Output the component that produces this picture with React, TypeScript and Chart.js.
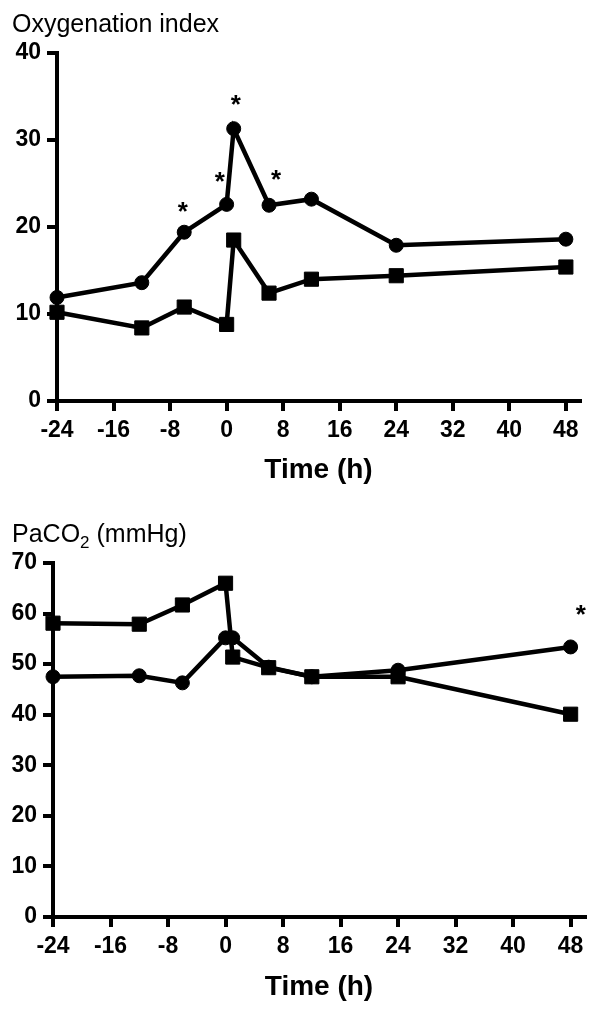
import React, { useEffect, useRef } from "react";
import { Chart, registerables } from "chart.js";

Chart.register(...registerables);

// ---------- data ----------
const TIME_HOURS = [-24, -12, -6, 0, 1, 6, 12, 24, 48];
const X_TICKS = [-24, -16, -8, 0, 8, 16, 24, 32, 40, 48];

const OXY_CIRCLES = [11.9, 13.6, 19.4, 22.6, 31.3, 22.5, 23.2, 17.9, 18.6];
const OXY_SQUARES = [10.2, 8.4, 10.8, 8.8, 18.5, 12.4, 14.0, 14.4, 15.4];
const OXY_Y_TICKS = [0, 10, 20, 30, 40];
const OXY_STAR_X = [-6.2, -0.95, 1.3, 7.0];
const OXY_STAR_Y = [22.5, 26.0, 34.8, 26.2];

const PACO2_CIRCLES = [47.5, 47.7, 46.3, 55.2, 55.2, 49.4, 47.5, 48.8, 53.4];
const PACO2_SQUARES = [58.1, 57.9, 61.7, 66.0, 51.4, 49.3, 47.5, 47.5, 40.1];
const PACO2_Y_TICKS = [0, 10, 20, 30, 40, 50, 60, 70];
const PACO2_STAR_X = [49.4];
const PACO2_STAR_Y = [61.1];

const X_TITLE = "Time (h)";
const OXY_TITLE = [{ text: "Oxygenation index" }];
const PACO2_TITLE = [{ text: "PaCO" }, { text: "2", sub: true }, { text: " (mmHg)" }];

// ---------- styling ----------
const FAMILY = '"Liberation Sans", Arial, Helvetica, sans-serif';

const figTextPlugin = {
  id: "figText",
  afterDraw(chart: any, _args: any, opts: any) {
    const ctx = chart.ctx;
    const { left, right } = chart.chartArea;
    ctx.save();
    ctx.fillStyle = "#000";
    ctx.textBaseline = "alphabetic";
    ctx.textAlign = "left";
    let x = opts.titleX;
    for (const seg of opts.title) {
      ctx.font = seg.sub ? `17px ${FAMILY}` : `25px ${FAMILY}`;
      ctx.fillText(seg.text, x, opts.titleBaseline + (seg.sub ? 6 : 0));
      x += ctx.measureText(seg.text).width;
    }
    ctx.font = `bold 28px ${FAMILY}`;
    ctx.textAlign = "center";
    ctx.fillText(X_TITLE, (left + right) / 2, opts.xTitleBaseline);
    const xs = chart.scales.x;
    const ys = chart.scales.y;
    ctx.font = `bold 26px ${FAMILY}`;
    opts.starX.forEach((v: number, i: number) => {
      ctx.fillText("*", xs.getPixelForValue(v), ys.getPixelForValue(opts.starY[i]) + 15);
    });
    ctx.restore();
  },
};

function buildConfig(p: any) {
  const tickFont = { family: FAMILY, size: 23, weight: "bold" as const };
  const grid = {
    drawOnChartArea: false,
    drawTicks: true,
    tickLength: 10,
    lineWidth: 4,
    color: "#000",
  };
  const border = { display: true, width: 4, color: "#000" };
  const mk = (vals: number[]) => vals.map((y, i) => ({ x: TIME_HOURS[i], y }));
  return {
    type: "line" as const,
    data: {
      datasets: [
        {
          data: mk(p.squares),
          borderColor: "#000",
          backgroundColor: "#000",
          borderWidth: 4.5,
          pointStyle: "rect",
          pointRadius: 10,
          pointBorderWidth: 1,
          tension: 0,
          clip: false,
        },
        {
          data: mk(p.circles),
          borderColor: "#000",
          backgroundColor: "#000",
          borderWidth: 4.5,
          pointStyle: "circle",
          pointRadius: 7,
          pointBorderWidth: 1,
          tension: 0,
          clip: false,
        },
      ],
    },
    options: {
      animation: false,
      responsive: false,
      maintainAspectRatio: false,
      devicePixelRatio: 1,
      layout: { padding: { left: 0, right: p.padRight, top: p.padTop, bottom: 0 } },
      plugins: {
        legend: { display: false },
        tooltip: { enabled: false },
        figText: {
          title: p.title,
          titleX: 12,
          titleBaseline: p.titleBaseline,
          xTitleBaseline: p.xTitleBaseline,
          starX: p.starX,
          starY: p.starY,
        },
      },
      scales: {
        x: {
          type: "linear",
          min: -24,
          max: 50,
          afterBuildTicks: (s: any) => {
            s.ticks = X_TICKS.map((v) => ({ value: v }));
          },
          afterFit: (s: any) => {
            s.height = p.xAxisHeight;
          },
          ticks: {
            font: tickFont,
            color: "#000",
            padding: 6,
            autoSkip: false,
            maxRotation: 0,
            callback: (v: any) => String(v),
          },
          grid,
          border,
        },
        y: {
          type: "linear",
          min: 0,
          max: p.yMax,
          afterBuildTicks: (s: any) => {
            s.ticks = p.yTicks.map((v: number) => ({ value: v }));
          },
          afterFit: (s: any) => {
            s.width = p.yAxisWidth;
          },
          ticks: {
            font: tickFont,
            color: "#000",
            padding: 6,
            callback: (v: any) => String(v),
          },
          grid,
          border,
        },
      },
    },
    plugins: [figTextPlugin],
  };
}

function ChartCanvas({ params, width, height, top }: any) {
  const ref = useRef<HTMLCanvasElement>(null);
  useEffect(() => {
    if (!ref.current) return;
    const chart = new Chart(ref.current, buildConfig(params) as any);
    return () => chart.destroy();
  }, []);
  return (
    <canvas
      ref={ref}
      width={width}
      height={height}
      style={{ position: "absolute", left: 0, top, width, height }}
    />
  );
}

const TOP_PARAMS = {
  circles: OXY_CIRCLES,
  squares: OXY_SQUARES,
  yTicks: OXY_Y_TICKS,
  yMax: 40,
  starX: OXY_STAR_X,
  starY: OXY_STAR_Y,
  title: OXY_TITLE,
  titleBaseline: 32,
  xTitleBaseline: 478,
  padRight: 20,
  padTop: 53,
  xAxisHeight: 104,
  yAxisWidth: 57,
};

const BOTTOM_PARAMS = {
  circles: PACO2_CIRCLES,
  squares: PACO2_SQUARES,
  yTicks: PACO2_Y_TICKS,
  yMax: 70,
  starX: PACO2_STAR_X,
  starY: PACO2_STAR_Y,
  title: PACO2_TITLE,
  titleBaseline: 37,
  xTitleBaseline: 490,
  padRight: 15,
  padTop: 58,
  xAxisHeight: 98,
  yAxisWidth: 53,
};

export default function App() {
  return (
    <div style={{ position: "absolute", left: 0, top: 0, width: 600, height: 1015, background: "#fff" }}>
      <ChartCanvas params={TOP_PARAMS} width={600} height={505} top={0} />
      <ChartCanvas params={BOTTOM_PARAMS} width={600} height={510} top={505} />
    </div>
  );
}
